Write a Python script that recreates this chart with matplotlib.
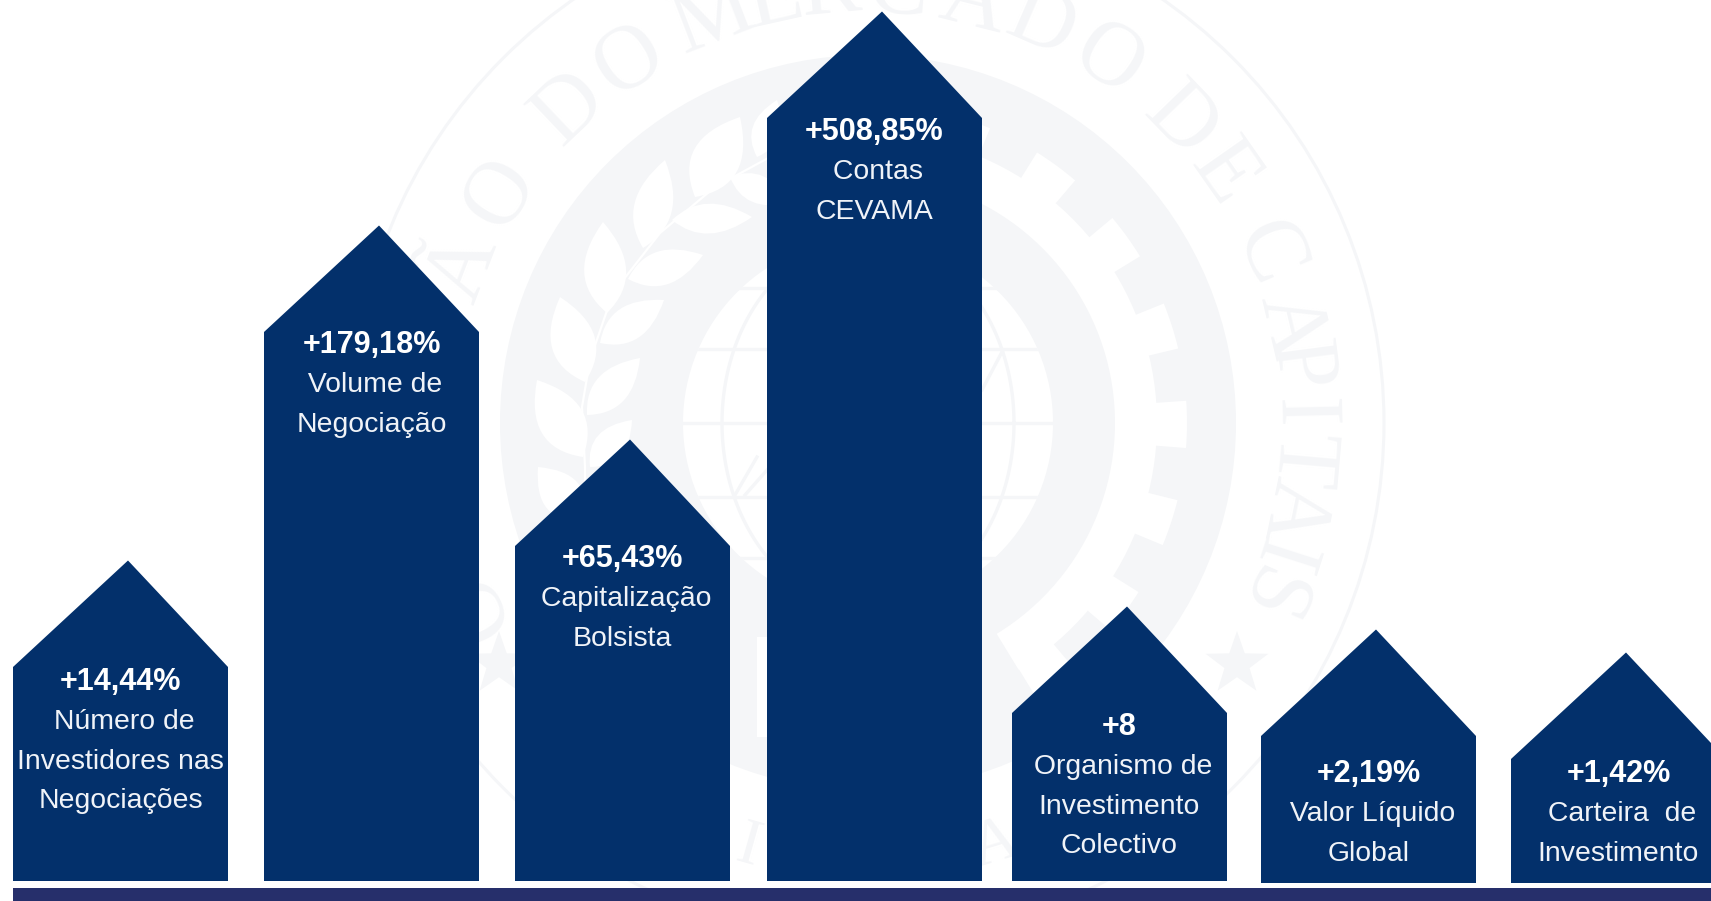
import numpy as np
import matplotlib
matplotlib.use("Agg")
import matplotlib.pyplot as plt
from matplotlib.patches import Circle, Wedge, PathPatch, Polygon, Rectangle
from matplotlib.path import Path

# ---------- data ----------
change_labels = ["+14,44%", "+179,18%", "+65,43%", "+508,85%", "+8", "+2,19%", "+1,42%"]
category_lines = [
    [" Número de", "Investidores nas", "Negociações"],
    [" Volume de", "Negociação"],
    [" Capitalização", "Bolsista"],
    [" Contas", "CEVAMA"],
    [" Organismo de", "Investimento", "Colectivo"],
    [" Valor Líquido", "Global"],
    [" Carteira  de", "Investimento"],
]
# apparent height of each house-shaped column (schematic, not proportional to the %)
column_heights = [214, 549, 335, 763, 168, 147, 124]

# ---------- layout ----------
W, H = 1711, 901
column_left = [13, 264, 515, 767, 1012, 1261, 1511]
column_base = [20, 20, 20, 20, 20, 18, 18]
column_width = 215
roof_height = 106.5
apex_offset = 115
first_baseline_px = [689, 352, 566, 139, 734, 781, 781]
bold_nudge_px = 1
line_step = 39.8
NAVY = "#03306B"
BAND = "#262F6B"
SEAL = "#F5F6F8"
FONT = "Liberation Sans"

fig = plt.figure(figsize=(W / 100, H / 100), dpi=100, facecolor="white")
ax = fig.add_axes([0, 0, 1, 1])
ax.set_xlim(0, W)
ax.set_ylim(0, H)
ax.axis("off")


def iy(y):
    return H - y


# ---------- watermark seal ----------
cx, cy = 868, iy(423)


def add(p):
    ax.add_patch(p)
    return p


def wedge(r, t1, t2, width, color, z):
    """t1..t2 clockwise degrees from the top."""
    add(Wedge((cx, cy), r, 90 - t2, 90 - t1, width=width, fc=color, ec="none", zorder=z))


add(Circle((cx, cy), 516, fc="none", ec=SEAL, lw=2.2, zorder=1))
add(Circle((cx, cy), 368, fc=SEAL, ec="none", zorder=1))
wedge(289, 0, 148.6, 42, "white", 2)
for k in range(-1, 7):
    wedge(319, 32 + 18 * k, 40.5 + 18 * k, 32, "white", 2)
add(Circle((cx, cy), 185, fc="white", ec="none", zorder=3))

# globe
globe_clip = Circle((cx, cy), 185, transform=ax.transData)
for dy in [-135, -74, 0, 74, 135]:
    ln, = ax.plot([cx - 190, cx + 190], [cy + dy, cy + dy], color=SEAL, lw=2.4, zorder=4)
    ln.set_clip_path(globe_clip)
t = np.linspace(0, 2 * np.pi, 200)
for a in [146, 75]:
    ln, = ax.plot(cx + a * np.cos(t), cy + 185 * np.sin(t), color=SEAL, lw=2.4, zorder=4)
    ln.set_clip_path(globe_clip)
for xs, ys in [((757, 735), (457, 495)), ((767, 745), (470, 495)), ((1003, 982), (350, 390))]:
    ax.plot(xs, [iy(v) for v in ys], color=SEAL, lw=2.4, zorder=4)
add(Rectangle((757, iy(737)), 14, 100, fc="white", ec="none", zorder=2))


def leaf(base, tip, bulge):
    b = np.array([base[0], iy(base[1])], float)
    e = np.array([tip[0], iy(tip[1])], float)
    d = e - b
    n = np.array([-d[1], d[0]]) / np.hypot(*d)
    m = b + 0.42 * d
    c1, c2 = m + n * bulge * 2, m - n * bulge * 2
    verts = [b, c1, e, c2, b, b]
    codes = [Path.MOVETO, Path.CURVE3, Path.CURVE3, Path.CURVE3, Path.CURVE3, Path.CLOSEPOLY]
    add(PathPatch(Path(verts, codes), fc="white", ec="none", zorder=2))


# base (x, y), tip (x, y), half width, in image pixels
for zb, zt, bulge in [
    ((695, 197), (740, 117), 24), ((643, 248), (665, 160), 19),
    ((672, 220), (752, 217), 15), ((607, 313), (603, 222), 21),
    ((628, 279), (703, 255), 17), ((600, 343), (664, 300), 17),
    ((585, 382), (560, 297), 22), ((587, 415), (640, 358), 17),
    ((583, 457), (537, 380), 23), ((590, 467), (632, 420), 15),
    ((583, 520), (538, 467), 20), ((730, 177), (790, 203), 14),
    ((757, 157), (777, 100), 14),
]:
    leaf(zb, zt, bulge)
stem = np.array([[770, 157], [715, 187], [660, 233], [613, 293], [590, 360], [582, 407], [585, 467], [585, 500]], float)
ax.plot(stem[:, 0], iy(stem[:, 1]), color="white", lw=1.6, zorder=2)


def star(px, py, R):
    ang = np.deg2rad(90 + 36 * np.arange(10))
    rad = np.where(np.arange(10) % 2 == 0, R, R * 0.40)
    add(Polygon(np.c_[px + rad * np.cos(ang), iy(py) + rad * np.sin(ang)], fc=SEAL, ec="none", zorder=1))


star(1237, 664, 33)
star(499, 664, 33)

seal_letters = [("O", -115), ("S", -80), ("Ã", -69), ("O", -58), ("D", -43.5), ("O", -33.4), ("M", -21), ("E", -12.5),
                ("R", -5), ("C", 4), ("A", 14), ("D", 23.5), ("O", 33.5), ("D", 46), ("E", 55),
                ("C", 67), ("A", 76.8), ("P", 82.5), ("I", 88.7), ("T", 95), ("A", 101.6), ("I", 107.8),
                ("S", 113.3)]
for ch, th in seal_letters:
    r = 433
    a = np.deg2rad(th)
    ax.text(cx + r * np.sin(a), cy + r * np.cos(a), ch, rotation=-th, rotation_mode="anchor",
            ha="center", va="center", family="Liberation Serif", fontsize=65, color=SEAL, zorder=1)
for ch, th in [("I", 195.8), ("A", 163.2)]:
    r = 441
    a = np.deg2rad(th)
    ax.text(cx + r * np.sin(a), cy + r * np.cos(a), ch, rotation=180 - th, rotation_mode="anchor",
            ha="center", va="center", family="Liberation Serif", fontsize=47, color=SEAL, zorder=1)

# ---------- columns ----------
ax.add_patch(Rectangle((13, 0), W - 13, 13, fc=BAND, ec="none", zorder=10))
for left, base, h in zip(column_left, column_base, column_heights):
    top = base + h
    ax.fill([left, left, left + apex_offset, left + column_width, left + column_width],
            [base, top, top + roof_height, top, base], fc=NAVY, ec="none", zorder=10)

# ---------- labels ----------
for left, bl, value, lines in zip(column_left, first_baseline_px, change_labels, category_lines):
    x = left + column_width / 2
    ax.text(x, iy(bl + bold_nudge_px), value, ha="center", va="baseline", family=FONT, fontweight="bold",
            fontsize=22, color="white", zorder=11)
    for i, line in enumerate(lines, start=1):
        ax.text(x, iy(bl + i * line_step), line, ha="center", va="baseline", family=FONT,
                fontsize=20.4, color="#F0F3F8", zorder=11)

fig.savefig("out.png", dpi=100, facecolor="white")
